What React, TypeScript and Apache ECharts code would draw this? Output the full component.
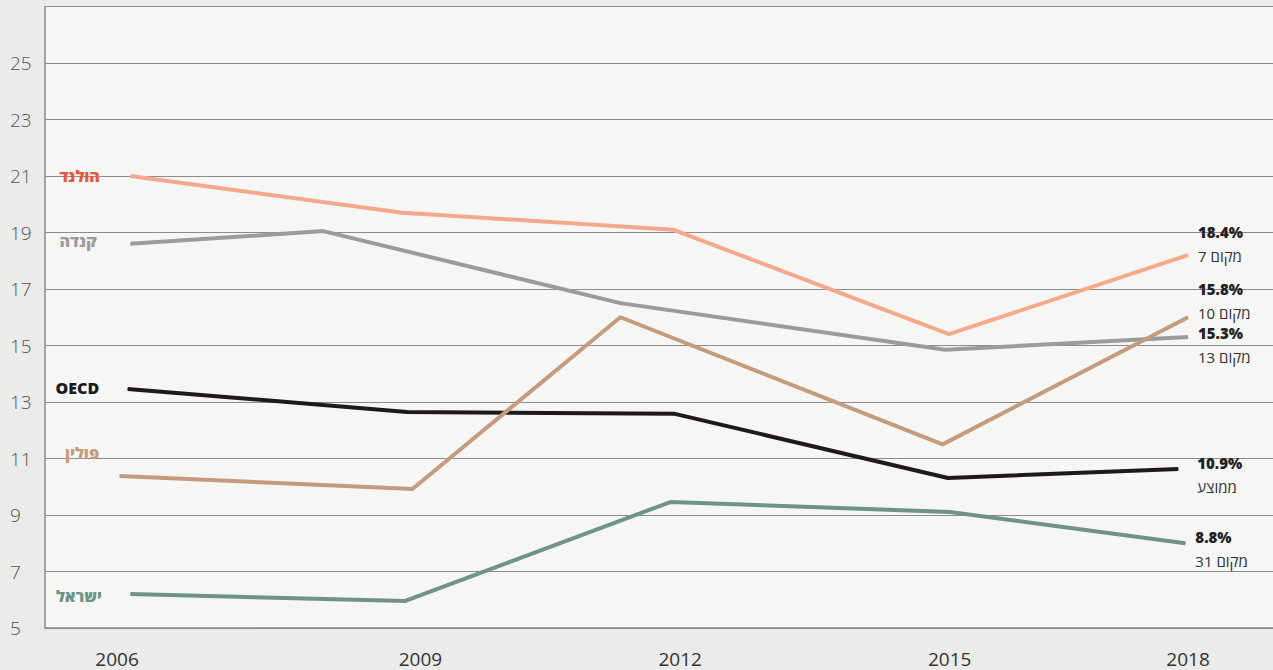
import React, { useEffect, useRef } from "react";
import * as echarts from "echarts";

const seriesNames = ["הולנד", "קנדה", "OECD", "פולין", "ישראל"];
const lineColors = ["#f4a88c", "#9a9c9c", "#1e1a1a", "#c49b7c", "#6f9384"];
const nameColors = ["#e8553a", "#9a9a9a", "#1a1a1a", "#c49b7c", "#6f9384"];

const netherlandsX = [2006.15, 2009.2, 2012.23, 2015.32, 2018.0];
const netherlandsY = [21.0, 19.7, 19.1, 15.4, 18.2];
const canadaX = [2006.15, 2008.31, 2011.64, 2015.28, 2018.0];
const canadaY = [18.6, 19.05, 16.5, 14.85, 15.3];
const oecdX = [2006.12, 2009.25, 2012.25, 2015.31, 2017.89];
const oecdY = [13.46, 12.65, 12.58, 10.31, 10.63];
const polandX = [2006.03, 2009.31, 2011.64, 2015.25, 2018.0];
const polandY = [10.38, 9.92, 16.0, 11.5, 16.0];
const israelX = [2006.15, 2009.23, 2012.2, 2015.33, 2017.97];
const israelY = [6.2, 5.96, 9.46, 9.11, 8.0];

const endPercents = ["18.4%", "15.8%", "15.3%", "10.9%", "8.8%"];
const endRanks = ["מקום 7", "מקום 10", "מקום 13", "ממוצע", "מקום 31"];

const yearTickLabels = ["2006", "2009", "2012", "2015", "2018"];
const yearTickPositions = [2006, 2009.4, 2012.31, 2015.33, 2018];

const FONT = "'Open Sans', 'DejaVu Sans', sans-serif";

export default function App() {
  const ref = useRef<HTMLDivElement>(null);

  useEffect(() => {
    if (!ref.current) return;
    const chart = echarts.init(ref.current, undefined, { renderer: "svg" });

    const xs = [netherlandsX, canadaX, oecdX, polandX, israelX];
    const ys = [netherlandsY, canadaY, oecdY, polandY, israelY];
    // order of right-side labels per series
    const endIdx = [0, 2, 3, 1, 4];
    const startLabelDist = [30, 33, 28, 20, 28];
    const startLabelDy = [0, -3, -1, -23, 2];
    const endLabelOffset = [
      [2, -11],
      [2, 8],
      [11, 6],
      [2, -16],
      [2, 6],
    ];

    const series = seriesNames.map((name, i) => {
      const data = xs[i].map((x, j) => {
        const item: any = { value: [x, ys[i][j]] };
        if (j === 0) {
          item.label = {
            show: true,
            position: "left",
            distance: startLabelDist[i],
            offset: [0, startLabelDy[i]],
            formatter: name,
            color: nameColors[i],
            fontFamily: FONT,
            fontWeight: 800,
            fontSize: 16,
          };
        }
        return item;
      });
      const k = endIdx[i];
      return {
        type: "line",
        name,
        data,
        symbol: "circle",
        symbolSize: 1,
        showSymbol: true,
        itemStyle: { color: lineColors[i] },
        lineStyle: { color: lineColors[i], width: 4 },
        label: { show: false },
        endLabel: {
          show: true,
          distance: 8,
          offset: endLabelOffset[i],
          formatter: `{p|${endPercents[k]}}\n{r|${endRanks[k]}}`,
          rich: {
            p: {
              fontFamily: FONT,
              fontWeight: 800,
              fontSize: 15,
              color: "#222",
              lineHeight: 24,
            },
            r: {
              fontFamily: FONT,
              fontSize: 15,
              color: "#333",
              lineHeight: 24,
            },
          },
        },
        z: 3,
      };
    });

    chart.setOption({
      animation: false,
      backgroundColor: "#ebebea",
      grid: {
        left: 45,
        right: 0,
        top: 6.5,
        bottom: 42,
        show: true,
        backgroundColor: "#f6f6f5",
        borderWidth: 0,
      },
      xAxis: {
        type: "value",
        min: 2005.193,
        max: 2018.952,
        axisLine: { show: true, lineStyle: { color: "#8a8a8a", width: 1.5 } },
        axisTick: { show: false },
        splitLine: { show: false },
        axisLabel: {
          customValues: yearTickPositions,
          showMinLabel: true,
          showMaxLabel: true,
          margin: 21,
          lineHeight: 19,
          fontFamily: FONT,
          fontSize: 19,
          color: "#333",
          formatter: (v: number) => {
            let best = 0;
            let bd = Infinity;
            yearTickPositions.forEach((p, i) => {
              const d = Math.abs(p - v);
              if (d < bd) {
                bd = d;
                best = i;
              }
            });
            return yearTickLabels[best];
          },
        },
      },
      yAxis: {
        type: "value",
        min: 5,
        max: 27,
        interval: 2,
        axisLine: { show: true, lineStyle: { color: "#8a8a8a", width: 1.5 } },
        axisTick: { show: false },
        splitLine: { show: true, lineStyle: { color: "#8c8c8c", width: 1 } },
        axisLabel: {
          align: "left",
          margin: 35,
          fontFamily: FONT,
          fontWeight: 300,
          fontSize: 19,
          color: "#555",
          formatter: (v: number) => (v === 27 ? "" : String(v)),
        },
      },
      series,
    });

    return () => chart.dispose();
  }, []);

  return (
    <div
      ref={ref}
      style={{ position: "fixed", left: 0, top: 0, width: 1273, height: 670 }}
    />
  );
}
